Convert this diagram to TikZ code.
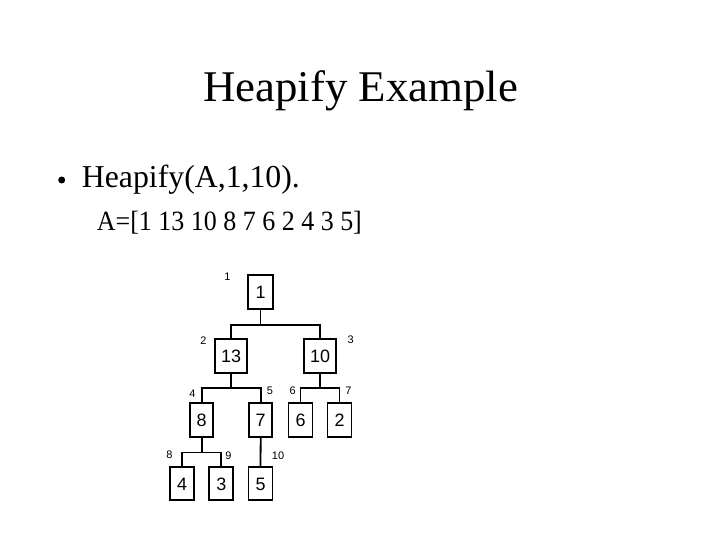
\documentclass[tikz,border=0pt]{standalone}
\usepackage{fontspec}
\setmainfont{Liberation Serif}
\newfontfamily\arialfont{Liberation Sans}
\usepackage{graphicx}
\begin{document}
\begin{tikzpicture}[x=1bp,y=-1bp,
  box/.style={draw=black, line width=1.8bp, inner sep=0pt, text height=12.9pt, text depth=0pt, font=\arialfont\fontsize{18}{20}\selectfont},
  idx/.style={inner sep=0pt, text height=7.9pt, text depth=0pt, font=\arialfont\fontsize{11}{12}\selectfont},
  conn/.style={line width=1.8bp}]
\useasboundingbox[fill=white] (0,0) rectangle (720,540);
% texts
\node[anchor=base, inner sep=0pt, font=\fontsize{44}{50}\selectfont] (title) at (360.5,102) {\resizebox{315bp}{\height}{Heapify Example}};
\node[circle, fill=black, inner sep=0pt, minimum size=7bp] (bul) at (61.7,180) {};
\node[anchor=base west, inner sep=0pt, font=\fontsize{32}{36}\selectfont] (l1) at (81.7,188) {\resizebox{218bp}{\height}{Heapify(A,1,10).}};
\node[anchor=base west, inner sep=0pt, font=\fontsize{28}{32}\selectfont] (l2) at (96.7,231) {\resizebox{265bp}{\height}{A=[1 13 10 8 7 6 2 4 3 5]}};
% boxes
\node[box, minimum width=25bp, minimum height=34bp] (n1) at (260.5,292) {1};
\node[box, minimum width=32bp, minimum height=34bp] (n13) at (231,356) {13};
\node[box, minimum width=32bp, minimum height=34bp] (n10) at (320,356) {10};
\node[box, minimum width=23bp, minimum height=34bp] (n8) at (201.7,420) {8};
\node[box, minimum width=23bp, minimum height=34bp] (n7) at (260.7,420) {7};
\node[box, minimum width=24bp, minimum height=34bp] (n6) at (300.5,420) {6};
\node[box, minimum width=24bp, minimum height=34bp] (n2) at (339.5,420) {2};
\node[box, minimum width=24bp, minimum height=33bp] (n4) at (182.2,483.7) {4};
\node[box, minimum width=24bp, minimum height=33bp] (n3) at (221.3,483.7) {3};
\node[box, minimum width=24bp, minimum height=33bp] (n5) at (260.5,483.7) {5};
% junctions
\coordinate (j1) at (260.5,325);
\coordinate (j2) at (231,388);
\coordinate (j3) at (320,388);
\coordinate (j4) at (201.7,452.5);
% connectors
\draw[conn] (n1.south) -- (j1) -| (n13.north);
\draw[conn] (j1) -| (n10.north);
\draw[conn] (n13.south) -- (j2) -| (n8.north);
\draw[conn] (j2) -| (n7.north);
\draw[conn] (n10.south) -- (j3) -| (n6.north);
\draw[conn] (j3) -| (n2.north);
\draw[conn] (n8.south) -- (j4) -| (n4.north);
\draw[conn] (j4) -| (n3.north);
\draw[conn] (n7.south) -- (n5.north);
% index labels
\node[idx] (i1) at (227.5,276.7) {1};
\node[idx] (i2) at (203.3,341) {2};
\node[idx] (i3) at (350.7,340) {3};
\node[idx] (i4) at (192.3,393.3) {4};
\node[idx] (i5) at (270,391) {5};
\node[idx] (i6) at (292.7,391) {6};
\node[idx] (i7) at (348.3,391) {7};
\node[idx] (i8) at (169.5,455) {8};
\node[idx] (i9) at (228.3,455.5) {9};
\node[idx] (i10) at (278,455.5) {10};
\end{tikzpicture}
\end{document}
